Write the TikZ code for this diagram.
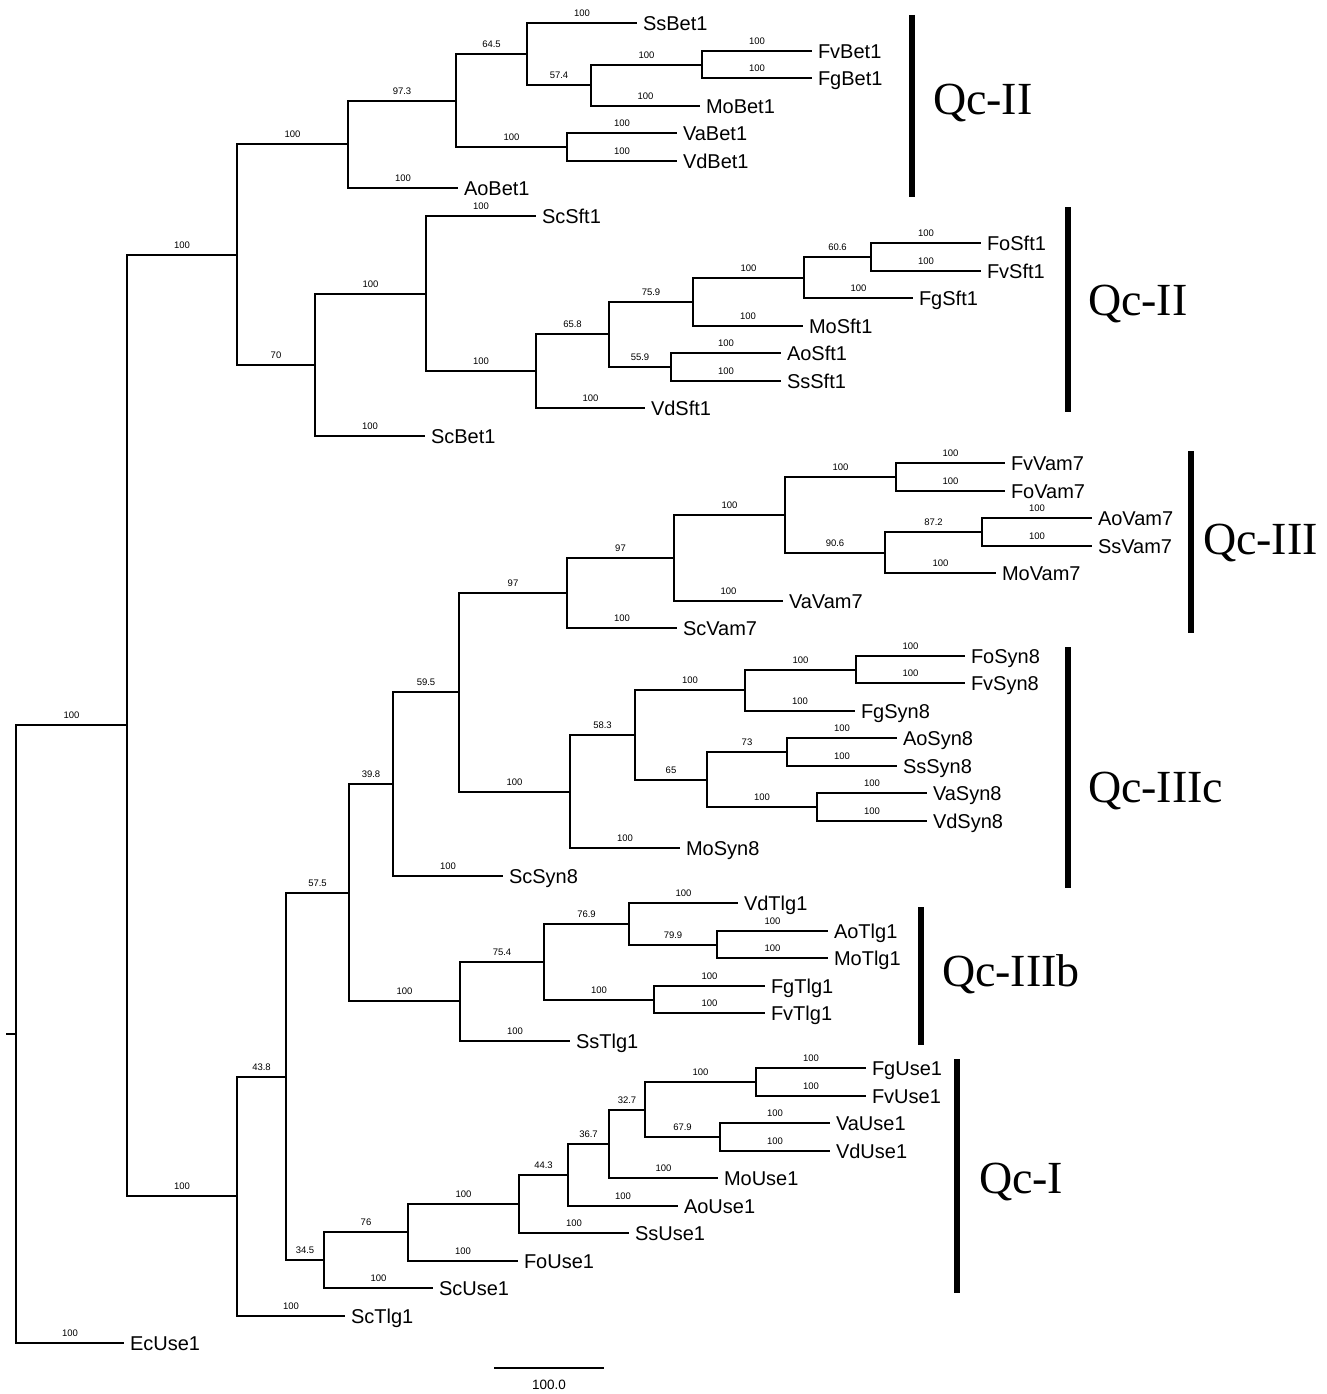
\documentclass[tikz,border=0pt]{standalone}
\usepackage{fontspec}
\setmainfont{Liberation Sans}
\newfontfamily\cladefont{Liberation Serif}
\newcommand\tbr[3]{\draw (#1) |- node[bs]{#3} (#2);}
\begin{document}
\begin{tikzpicture}[x=1pt,y=-1pt,line width=2pt,line join=miter,
  leaf/.style={anchor=west,inner xsep=5pt,inner ysep=0pt,text height=14.3pt,text depth=0pt,font=\fontsize{20}{24}\selectfont},
  bs/.style={pos=0.75,above=5pt,inner sep=0.7pt,font=\fontsize{9.5}{11}\selectfont},
  bar/.style={line width=6.5pt},
  clade/.style={anchor=base west,inner sep=0pt,font=\cladefont\fontsize{46}{50}\selectfont}]
\useasboundingbox (0,0) rectangle (1326,1394);
% leaves
\node[leaf] (ssbet1) at (637,23) {SsBet1};
\node[leaf] (fvbet1) at (812,51) {FvBet1};
\node[leaf] (fgbet1) at (812,78) {FgBet1};
\node[leaf] (mobet1) at (700,106) {MoBet1};
\node[leaf] (vabet1) at (677,133) {VaBet1};
\node[leaf] (vdbet1) at (677,161) {VdBet1};
\node[leaf] (aobet1) at (458,188) {AoBet1};
\node[leaf] (scsft1) at (536,216) {ScSft1};
\node[leaf] (fosft1) at (981,243) {FoSft1};
\node[leaf] (fvsft1) at (981,271) {FvSft1};
\node[leaf] (fgsft1) at (913,298) {FgSft1};
\node[leaf] (mosft1) at (803,326) {MoSft1};
\node[leaf] (aosft1) at (781,353) {AoSft1};
\node[leaf] (sssft1) at (781,381) {SsSft1};
\node[leaf] (vdsft1) at (645,408) {VdSft1};
\node[leaf] (scbet1) at (425,436) {ScBet1};
\node[leaf] (fvvam7) at (1005,463) {FvVam7};
\node[leaf] (fovam7) at (1005,491) {FoVam7};
\node[leaf] (aovam7) at (1092,518) {AoVam7};
\node[leaf] (ssvam7) at (1092,546) {SsVam7};
\node[leaf] (movam7) at (996,573) {MoVam7};
\node[leaf] (vavam7) at (783,601) {VaVam7};
\node[leaf] (scvam7) at (677,628) {ScVam7};
\node[leaf] (fosyn8) at (965,656) {FoSyn8};
\node[leaf] (fvsyn8) at (965,683) {FvSyn8};
\node[leaf] (fgsyn8) at (855,711) {FgSyn8};
\node[leaf] (aosyn8) at (897,738) {AoSyn8};
\node[leaf] (sssyn8) at (897,766) {SsSyn8};
\node[leaf] (vasyn8) at (927,793) {VaSyn8};
\node[leaf] (vdsyn8) at (927,821) {VdSyn8};
\node[leaf] (mosyn8) at (680,848) {MoSyn8};
\node[leaf] (scsyn8) at (503,876) {ScSyn8};
\node[leaf] (vdtlg1) at (738,903) {VdTlg1};
\node[leaf] (aotlg1) at (828,931) {AoTlg1};
\node[leaf] (motlg1) at (828,958) {MoTlg1};
\node[leaf] (fgtlg1) at (765,986) {FgTlg1};
\node[leaf] (fvtlg1) at (765,1013) {FvTlg1};
\node[leaf] (sstlg1) at (570,1041) {SsTlg1};
\node[leaf] (fguse1) at (866,1068) {FgUse1};
\node[leaf] (fvuse1) at (866,1096) {FvUse1};
\node[leaf] (vause1) at (830,1123) {VaUse1};
\node[leaf] (vduse1) at (830,1151) {VdUse1};
\node[leaf] (mouse1) at (718,1178) {MoUse1};
\node[leaf] (aouse1) at (678,1206) {AoUse1};
\node[leaf] (ssuse1) at (629,1233) {SsUse1};
\node[leaf] (fouse1) at (518,1261) {FoUse1};
\node[leaf] (scuse1) at (433,1288) {ScUse1};
\node[leaf] (sctlg1) at (345,1316) {ScTlg1};
\node[leaf] (ecuse1) at (124,1343) {EcUse1};
% internal nodes
\coordinate (J) at (702,65);
\coordinate (I) at (591,85);
\coordinate (G) at (527,54);
\coordinate (H) at (567,147);
\coordinate (F) at (456,101);
\coordinate (D) at (348,144);
\coordinate (Q) at (871,257);
\coordinate (P) at (804,278);
\coordinate (N) at (693,302);
\coordinate (O) at (671,367);
\coordinate (M) at (609,334);
\coordinate (L) at (536,371);
\coordinate (K) at (426,294);
\coordinate (E) at (315,365);
\coordinate (B) at (237,255);
\coordinate (AB) at (896,477);
\coordinate (AD) at (982,532);
\coordinate (AC) at (885,553);
\coordinate (AA) at (785,515);
\coordinate (Z) at (674,558);
\coordinate (X) at (567,593);
\coordinate (AH) at (856,670);
\coordinate (AF) at (745,690);
\coordinate (AI) at (787,752);
\coordinate (AJ) at (817,807);
\coordinate (AG) at (707,780);
\coordinate (AE) at (635,735);
\coordinate (Y) at (570,792);
\coordinate (W) at (459,692);
\coordinate (U) at (393,784);
\coordinate (AN) at (717,945);
\coordinate (AL) at (629,924);
\coordinate (AM) at (654,1000);
\coordinate (AK) at (544,962);
\coordinate (V) at (460,1001);
\coordinate (S) at (349,893);
\coordinate (AT) at (756,1082);
\coordinate (AU) at (720,1137);
\coordinate (AS) at (645,1110);
\coordinate (AR) at (609,1144);
\coordinate (AQ) at (568,1175);
\coordinate (AP) at (519,1204);
\coordinate (AO) at (408,1232);
\coordinate (T) at (324,1260);
\coordinate (R) at (286,1077);
\coordinate (C) at (237,1196);
\coordinate (A) at (127,725);
\coordinate (root) at (16,1034);
\coordinate (stub) at (6,1034);
% branches
\draw (stub) -- (root);
\tbr{root}{A}{100}
\tbr{root}{ecuse1.west}{100}
\tbr{A}{B}{100}
\tbr{A}{C}{100}
\tbr{B}{D}{100}
\tbr{B}{E}{70}
\tbr{D}{F}{97.3}
\tbr{D}{aobet1.west}{100}
\tbr{F}{G}{64.5}
\tbr{F}{H}{100}
\tbr{G}{ssbet1.west}{100}
\tbr{G}{I}{57.4}
\tbr{I}{J}{100}
\tbr{I}{mobet1.west}{100}
\tbr{J}{fvbet1.west}{100}
\tbr{J}{fgbet1.west}{100}
\tbr{H}{vabet1.west}{100}
\tbr{H}{vdbet1.west}{100}
\tbr{E}{K}{100}
\tbr{E}{scbet1.west}{100}
\tbr{K}{scsft1.west}{100}
\tbr{K}{L}{100}
\tbr{L}{M}{65.8}
\tbr{L}{vdsft1.west}{100}
\tbr{M}{N}{75.9}
\tbr{M}{O}{55.9}
\tbr{N}{P}{100}
\tbr{N}{mosft1.west}{100}
\tbr{P}{Q}{60.6}
\tbr{P}{fgsft1.west}{100}
\tbr{Q}{fosft1.west}{100}
\tbr{Q}{fvsft1.west}{100}
\tbr{O}{aosft1.west}{100}
\tbr{O}{sssft1.west}{100}
\tbr{C}{R}{43.8}
\tbr{C}{sctlg1.west}{100}
\tbr{R}{S}{57.5}
\tbr{R}{T}{34.5}
\tbr{S}{U}{39.8}
\tbr{S}{V}{100}
\tbr{U}{W}{59.5}
\tbr{U}{scsyn8.west}{100}
\tbr{W}{X}{97}
\tbr{W}{Y}{100}
\tbr{X}{Z}{97}
\tbr{X}{scvam7.west}{100}
\tbr{Z}{AA}{100}
\tbr{Z}{vavam7.west}{100}
\tbr{AA}{AB}{100}
\tbr{AA}{AC}{90.6}
\tbr{AB}{fvvam7.west}{100}
\tbr{AB}{fovam7.west}{100}
\tbr{AC}{AD}{87.2}
\tbr{AC}{movam7.west}{100}
\tbr{AD}{aovam7.west}{100}
\tbr{AD}{ssvam7.west}{100}
\tbr{Y}{AE}{58.3}
\tbr{Y}{mosyn8.west}{100}
\tbr{AE}{AF}{100}
\tbr{AE}{AG}{65}
\tbr{AF}{AH}{100}
\tbr{AF}{fgsyn8.west}{100}
\tbr{AH}{fosyn8.west}{100}
\tbr{AH}{fvsyn8.west}{100}
\tbr{AG}{AI}{73}
\tbr{AG}{AJ}{100}
\tbr{AI}{aosyn8.west}{100}
\tbr{AI}{sssyn8.west}{100}
\tbr{AJ}{vasyn8.west}{100}
\tbr{AJ}{vdsyn8.west}{100}
\tbr{V}{AK}{75.4}
\tbr{V}{sstlg1.west}{100}
\tbr{AK}{AL}{76.9}
\tbr{AK}{AM}{100}
\tbr{AL}{vdtlg1.west}{100}
\tbr{AL}{AN}{79.9}
\tbr{AN}{aotlg1.west}{100}
\tbr{AN}{motlg1.west}{100}
\tbr{AM}{fgtlg1.west}{100}
\tbr{AM}{fvtlg1.west}{100}
\tbr{T}{AO}{76}
\tbr{T}{scuse1.west}{100}
\tbr{AO}{AP}{100}
\tbr{AO}{fouse1.west}{100}
\tbr{AP}{AQ}{44.3}
\tbr{AP}{ssuse1.west}{100}
\tbr{AQ}{AR}{36.7}
\tbr{AQ}{aouse1.west}{100}
\tbr{AR}{AS}{32.7}
\tbr{AR}{mouse1.west}{100}
\tbr{AS}{AT}{100}
\tbr{AS}{AU}{67.9}
\tbr{AT}{fguse1.west}{100}
\tbr{AT}{fvuse1.west}{100}
\tbr{AU}{vause1.west}{100}
\tbr{AU}{vduse1.west}{100}
% scale bar
\coordinate (sb1) at (494,1368);
\coordinate (sb2) at (604,1368);
\draw (sb1) -- node[below=10pt,inner sep=1pt,font=\fontsize{13.5}{15}\selectfont] (sblab) {100.0} (sb2);
% clade bars
\coordinate (b1t) at (912,15);   \coordinate (b1b) at (912,197);
\coordinate (b2t) at (1068,207); \coordinate (b2b) at (1068,412);
\coordinate (b3t) at (1191,451); \coordinate (b3b) at (1191,633);
\coordinate (b4t) at (1068,647); \coordinate (b4b) at (1068,888);
\coordinate (b5t) at (921,907);  \coordinate (b5b) at (921,1045);
\coordinate (b6t) at (957,1059); \coordinate (b6b) at (957,1293);
\draw[bar] (b1t) -- (b1b);
\draw[bar] (b2t) -- (b2b);
\draw[bar] (b3t) -- (b3b);
\draw[bar] (b4t) -- (b4b);
\draw[bar] (b5t) -- (b5b);
\draw[bar] (b6t) -- (b6b);
\node[clade] (c1) at (932,115) {Qc-II};
\node[clade] (c2) at (1087,315) {Qc-II};
\node[clade] (c3) at (1202,554) {Qc-III};
\node[clade] (c4) at (1087,802) {Qc-IIIc};
\node[clade] (c5) at (941,986) {Qc-IIIb};
\node[clade] (c6) at (978,1193) {Qc-I};
\end{tikzpicture}
\end{document}
